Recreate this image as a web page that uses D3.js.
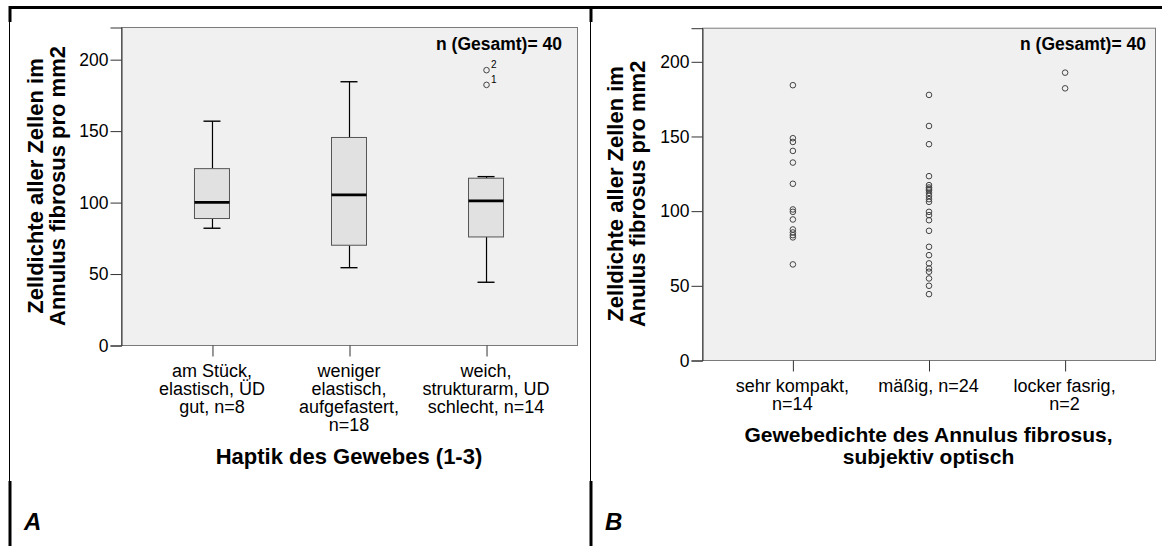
<!DOCTYPE html>
<html>
<head>
<meta charset="utf-8">
<script src="https://cdn.jsdelivr.net/npm/d3@7"></script>
<style>
  html, body { margin: 0; padding: 0; background: #fff; }
  svg { display: block; }
  text { font-family: "Liberation Sans", Arial, sans-serif; fill: #000; }
</style>
</head>
<body>
<svg id="chart" width="1166" height="546"></svg>
<script>
// ---------------- DATA ----------------
const yTicks = [0, 50, 100, 150, 200];
const yTitleA = ["Zelldichte aller Zellen im", "Annulus fibrosus pro mm2"];
const yTitleB = ["Zelldichte aller Zellen im", "Anulus fibrosus pro mm2"];
const nTotalLabel = "n (Gesamt)= 40";

// Panel A: boxplot
const categoriesA = ["g1", "g2", "g3"];
const categoryLabelsA = [
  ["am Stück,", "elastisch, ÜD", "gut, n=8"],
  ["weniger", "elastisch,", "aufgefastert,", "n=18"],
  ["weich,", "strukturarm, UD", "schlecht, n=14"]
];
const whiskerLowA = [81.7, 54.1, 43.9];
const q1A = [88.5, 69.8, 75.6];
const medianA = [99.8, 105.0, 100.8];
const q3A = [123.4, 145.2, 116.7];
const whiskerHighA = [156.6, 184.2, 117.8];
const outlierValuesA = [182.0, 192.3];
const outlierGroupA = ["g3", "g3"];
const outlierLabelsA = ["1", "2"];
const xTitleA = ["Haptik des Gewebes (1-3)"];

// Panel B: dot plot
const categoriesB = ["b1", "b2", "b3"];
const categoryLabelsB = [
  ["sehr kompakt,", "n=14"],
  ["mäßig, n=24"],
  ["locker fasrig,", "n=2"]
];
const valuesB1 = [184, 148.5, 146, 140, 132.2, 118, 100.8, 99.2, 94.1, 87.4, 85.4, 83.6, 82.1, 64];
const valuesB2 = [177.5, 156.7, 144.5, 123.1, 117.1, 115.5, 114.5, 113.7, 111.9, 109.9, 107.7, 105.9,
                  99.2, 97, 93.6, 86.5, 75.8, 70.2, 64.7, 61.3, 59.1, 54.6, 49.7, 44.1];
const valuesB3 = [192.4, 181.9];
const xTitleB = ["Gewebedichte des Annulus fibrosus,", "subjektiv optisch"];
const panelLetters = ["A", "B"];

// ---------------- DRAW ----------------
const svg = d3.select("#chart");
const yMax = 222.5;

// Frame lines
const frame = svg.append("g");
frame.append("line").attr("x1", 9).attr("x2", 1162).attr("y1", 7.5).attr("y2", 7.5)
  .attr("stroke", "#000").attr("stroke-width", 3);
[10, 591].forEach(x => {
  frame.append("line").attr("x1", x).attr("x2", x).attr("y1", 6).attr("y2", 22)
    .attr("stroke", "#000").attr("stroke-width", 3);
  frame.append("line").attr("x1", x - 0.5).attr("x2", x - 0.5).attr("y1", 22).attr("y2", 481)
    .attr("stroke", "#000").attr("stroke-width", 1);
  frame.append("line").attr("x1", x).attr("x2", x).attr("y1", 481).attr("y2", 546)
    .attr("stroke", "#000").attr("stroke-width", 3);
});

function drawPanel(cfg) {
  const g = svg.append("g");
  const y = d3.scaleLinear().domain([0, yMax]).range([cfg.bottom, cfg.top]);
  const x = d3.scalePoint().domain(cfg.categories).range([cfg.left, cfg.right]).padding(0.664);

  // plot background
  g.append("rect").attr("x", cfg.left + 0.5).attr("y", cfg.top + 0.5)
    .attr("width", cfg.right - cfg.left).attr("height", cfg.bottom - cfg.top)
    .attr("fill", "#f0f0f0").attr("stroke", "#7a7a7a").attr("stroke-width", 1);

  // y axis
  const ya = g.append("g").attr("transform", `translate(${cfg.left + 0.5},0.5)`)
    .call(d3.axisLeft(y).tickValues(yTicks).tickSize(11).tickPadding(2).tickFormat(d3.format("d")));
  ya.select(".domain").attr("stroke", "#333");
  ya.selectAll(".tick line").attr("stroke", "#333");
  ya.selectAll(".tick text").attr("font-size", 17.5).attr("font-family", "Liberation Sans, Arial, sans-serif").attr("fill", "#000");

  // x axis
  const xa = g.append("g").attr("transform", `translate(0.5,${cfg.bottom + 0.5})`)
    .call(d3.axisBottom(x).tickSize(11).tickFormat(""));
  xa.select(".domain").remove();
  xa.selectAll(".tick line").attr("stroke", "#333");

  // category labels
  cfg.categories.forEach((c, i) => {
    const t = g.append("text").attr("text-anchor", "middle")
      .attr("font-size", 18).attr("x", x(c)).attr("y", cfg.bottom + 31.5);
    cfg.catLabels[i].forEach((line, j) => {
      t.append("tspan").attr("x", x(c)).attr("dy", j === 0 ? 0 : 18.2).text(line);
    });
  });

  // x title
  const cx = (cfg.left + cfg.right) / 2;
  const xt = g.append("text").attr("text-anchor", "middle").attr("font-weight", "bold")
    .attr("font-size", cfg.xTitleSize).attr("x", cx).attr("y", cfg.xTitleY);
  cfg.xTitle.forEach((line, j) => {
    xt.append("tspan").attr("x", cx).attr("dy", j === 0 ? 0 : 21.5).text(line);
  });

  // y title
  const cy = (cfg.top + cfg.bottom) / 2;
  cfg.yTitle.forEach((line, j) => {
    g.append("text").attr("text-anchor", "middle").attr("font-weight", "bold")
      .attr("font-size", 22)
      .attr("transform", `translate(${cfg.yTitleX[j]},${cy}) rotate(-90)`)
      .text(line);
  });

  // n total
  g.append("text").attr("text-anchor", "end").attr("font-weight", "bold")
    .attr("font-size", 17.5).attr("x", cfg.nX).attr("y", 50).text(nTotalLabel);

  // panel letter
  g.append("text").attr("font-weight", "bold").attr("font-style", "italic")
    .attr("font-size", 24).attr("x", cfg.letterX).attr("y", 530).text(cfg.letter);

  return { g, x, y };
}

// Panel A
const A = drawPanel({
  left: 121, right: 577, top: 27, bottom: 345,
  categories: categoriesA, catLabels: categoryLabelsA,
  xTitle: xTitleA, xTitleY: 464, xTitleSize: 22, yTitle: yTitleA, yTitleX: [43, 65],
  nX: 562, letter: panelLetters[0], letterX: 24
});
{
  const { g, x, y } = A;
  const bw = 35, cw = 17;
  const boxes = categoriesA.map((c, i) => ({
    c, lo: whiskerLowA[i], q1: q1A[i], med: medianA[i], q3: q3A[i], hi: whiskerHighA[i]
  }));
  const bg = g.append("g").selectAll("g").data(boxes).join("g");
  // whiskers
  bg.append("line").attr("x1", d => x(d.c) + 0.5).attr("x2", d => x(d.c) + 0.5)
    .attr("y1", d => y(d.q3)).attr("y2", d => y(d.hi)).attr("stroke", "#000").attr("stroke-width", 1.2);
  bg.append("line").attr("x1", d => x(d.c) + 0.5).attr("x2", d => x(d.c) + 0.5)
    .attr("y1", d => y(d.q1)).attr("y2", d => y(d.lo)).attr("stroke", "#000").attr("stroke-width", 1.2);
  // caps
  bg.append("line").attr("x1", d => x(d.c) - cw / 2).attr("x2", d => x(d.c) + cw / 2)
    .attr("y1", d => y(d.hi)).attr("y2", d => y(d.hi)).attr("stroke", "#000").attr("stroke-width", 1.4);
  bg.append("line").attr("x1", d => x(d.c) - cw / 2).attr("x2", d => x(d.c) + cw / 2)
    .attr("y1", d => y(d.lo)).attr("y2", d => y(d.lo)).attr("stroke", "#000").attr("stroke-width", 1.4);
  // box
  bg.append("rect").attr("x", d => x(d.c) - bw / 2).attr("width", bw)
    .attr("y", d => y(d.q3)).attr("height", d => y(d.q1) - y(d.q3))
    .attr("fill", "#e1e1e1").attr("stroke", "#555").attr("stroke-width", 1);
  // median
  bg.append("line").attr("x1", d => x(d.c) - bw / 2).attr("x2", d => x(d.c) + bw / 2)
    .attr("y1", d => y(d.med)).attr("y2", d => y(d.med)).attr("stroke", "#000").attr("stroke-width", 2.8);
  // outliers
  const od = outlierValuesA.map((v, i) => ({ v, c: outlierGroupA[i], lab: outlierLabelsA[i] }));
  g.append("g").selectAll("circle").data(od).join("circle")
    .attr("cx", d => x(d.c) + 0.5).attr("cy", d => y(d.v)).attr("r", 2.8)
    .attr("fill", "none").attr("stroke", "#444").attr("stroke-width", 1);
  g.append("g").selectAll("text").data(od).join("text")
    .attr("x", d => x(d.c) + 5).attr("y", d => y(d.v) - 2).attr("font-size", 10)
    .text(d => d.lab);
}

// Panel B
const B = drawPanel({
  left: 702, right: 1155, top: 27.7, bottom: 360,
  categories: categoriesB, catLabels: categoryLabelsB,
  xTitle: xTitleB, xTitleY: 442, xTitleSize: 21, yTitle: yTitleB, yTitleX: [623, 645],
  nX: 1146, letter: panelLetters[1], letterX: 605
});
{
  const { g, x, y } = B;
  const pts = [];
  valuesB1.forEach(v => pts.push({ c: categoriesB[0], v }));
  valuesB2.forEach(v => pts.push({ c: categoriesB[1], v }));
  valuesB3.forEach(v => pts.push({ c: categoriesB[2], v }));
  g.append("g").selectAll("circle").data(pts).join("circle")
    .attr("cx", d => x(d.c) + 0.5).attr("cy", d => y(d.v)).attr("r", 2.8)
    .attr("fill", "none").attr("stroke", "#444").attr("stroke-width", 1);
}
</script>
</body>
</html>
